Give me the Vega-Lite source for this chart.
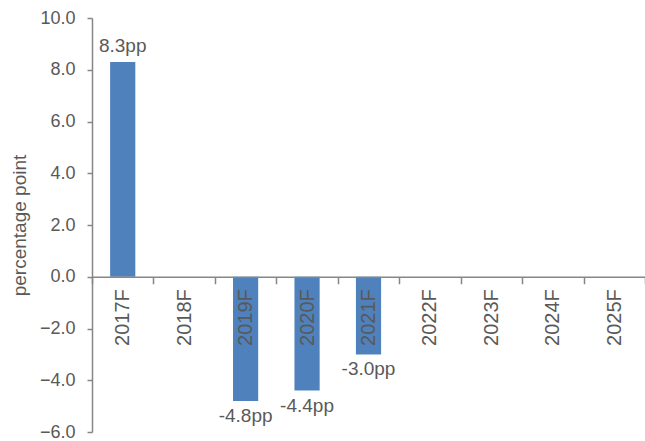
{
  "$schema": "https://vega.github.io/schema/vega-lite/v6.json",
  "width": 553,
  "height": 414,
  "autosize": "none",
  "padding": {"left": 92, "top": 18, "right": 0, "bottom": 9},
  "background": "white",
  "config": {
    "view": {"stroke": null},
    "font": "Liberation Sans",
    "axis": {"grid": false, "labelFont": "Liberation Sans", "titleFont": "Liberation Sans"}
  },
  "data": {
    "values": [
      {"year": "2017F", "value": 8.3, "label": "8.3pp"},
      {"year": "2018F", "value": null, "label": null},
      {"year": "2019F", "value": -4.8, "label": "-4.8pp"},
      {"year": "2020F", "value": -4.4, "label": "-4.4pp"},
      {"year": "2021F", "value": -3.0, "label": "-3.0pp"},
      {"year": "2022F", "value": null, "label": null},
      {"year": "2023F", "value": null, "label": null},
      {"year": "2024F", "value": null, "label": null},
      {"year": "2025F", "value": null, "label": null}
    ]
  },
  "encoding": {
    "x": {
      "field": "year",
      "type": "nominal",
      "sort": null,
      "scale": {
        "domain": ["2017F", "2018F", "2019F", "2020F", "2021F", "2022F", "2023F", "2024F", "2025F"],
        "paddingInner": 0,
        "paddingOuter": 0
      },
      "axis": {
        "title": null,
        "zindex": 1,
        "offset": -155.25,
        "labelAngle": -90,
        "labelAlign": "right",
        "labelBaseline": "middle",
        "labelFontSize": 20,
        "labelColor": "#595959",
        "labelPadding": 5,
        "tickBand": "extent",
        "tickSize": 7,
        "tickColor": "#868686",
        "domainColor": "#868686",
        "domainWidth": 1.5,
        "tickWidth": 1.5
      }
    },
    "y": {
      "field": "value",
      "type": "quantitative",
      "scale": {"domain": [-6, 10], "nice": false, "zero": false},
      "axis": {
        "title": "percentage point",
        "values": [-6, -4, -2, 0, 2, 4, 6, 8, 10],
        "format": ".1f",
        "labelFontSize": 18,
        "labelColor": "#595959",
        "labelPadding": 12,
        "tickSize": 5,
        "tickColor": "#868686",
        "domainColor": "#868686",
        "domainWidth": 1.5,
        "tickWidth": 1.5,
        "titleFontSize": 19,
        "titleFontWeight": "normal",
        "titleColor": "#595959",
        "titlePadding": 10
      }
    }
  },
  "layer": [
    {
      "mark": {"type": "bar", "width": {"band": 0.41}, "color": "#4F81BD"},
      "encoding": {"y2": {"datum": 0}}
    },
    {
      "transform": [{"filter": "datum.value > 0"}],
      "mark": {"type": "text", "baseline": "alphabetic", "dy": -10, "fontSize": 19, "color": "#595959"},
      "encoding": {"text": {"field": "label"}}
    },
    {
      "transform": [{"filter": "datum.value != null && datum.value < 0"}],
      "mark": {"type": "text", "baseline": "top", "dy": 6, "fontSize": 19, "color": "#595959"},
      "encoding": {"text": {"field": "label"}}
    }
  ]
}
